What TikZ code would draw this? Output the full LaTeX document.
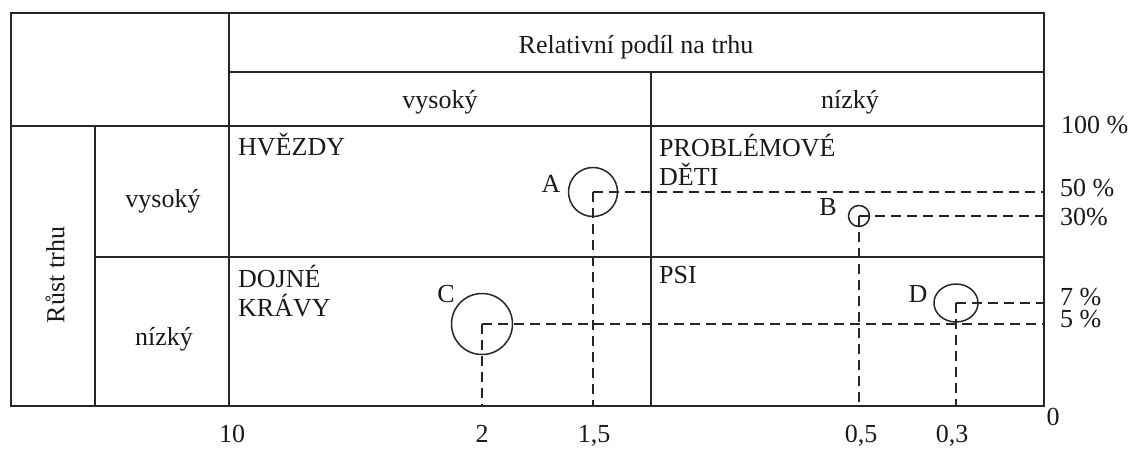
\documentclass[tikz,border=0pt]{standalone}
\usepackage{fontspec}
\setmainfont{Liberation Serif}
\usetikzlibrary{shapes.geometric}
\begin{document}
\begin{tikzpicture}[x=1pt,y=-1pt,
  grid/.style={line width=1.6pt,black!85},
  guide/.style={line width=1.3pt,black!85,dash pattern=on 10pt off 6pt},
  blob/.style={draw,line width=1.5pt,black!85,inner sep=0pt},
  txt/.style={inner sep=0pt,font=\fontsize{26}{29}\selectfont,text=black!90},
  lbl/.style={txt,anchor=base west,align=left}]
\useasboundingbox (0,0) rectangle (1133,448);

% frame corners and cell edges
\coordinate (TL) at (11,13);
\coordinate (BR) at (1044,406);
\coordinate (colA) at (95,0);
\coordinate (colB) at (229,0);
\coordinate (colC) at (651,0);
\coordinate (rowA) at (0,72);
\coordinate (rowB) at (0,126);
\coordinate (rowC) at (0,257);

% table
\draw[grid] (TL) rectangle (BR);
\draw[grid] (colB |- TL) -- (colB |- BR);
\draw[grid] (colA |- rowB) -- (colA |- BR);
\draw[grid] (colB |- rowA) -- (BR |- rowA);
\draw[grid] (TL |- rowB) -- (BR |- rowB);
\draw[grid] (colC |- rowA) -- (colC |- BR);
\draw[grid] (colA |- rowC) -- (BR |- rowC);

% headings
\node[txt,anchor=base] (hdr) at (636,53) {Relativní podíl na trhu};
\node[txt,anchor=base] (hhi) at (440,108) {vysoký};
\node[txt,anchor=base] (hlo) at (850,108) {nízký};
\node[txt,rotate=90] (grow) at (55,275) {Růst trhu};
\node[txt,anchor=base] (ghi) at (163,207) {vysoký};
\node[txt,anchor=base] (glo) at (164,345) {nízký};

% quadrant names (base = baseline of the last line)
\node[lbl] (stars) at (238,155) {HVĚZDY};
\node[lbl] (qmarks) at (659,185) {PROBLÉMOVÉ\\DĚTI};
\node[lbl] (cows) at (238,316) {DOJNÉ\\KRÁVY};
\node[lbl] (dogs) at (659,283) {PSI};

% products
\node[blob,circle,minimum size=49pt] (A) at (593,192) {};
\node[blob,circle,minimum size=21pt] (B) at (859,216) {};
\node[blob,circle,minimum size=61pt] (C) at (482,324) {};
\node[blob,ellipse,minimum width=44pt,minimum height=38pt] (D) at (956,303) {};

\node[txt,anchor=base] (la) at (551,192) {A};
\node[txt,anchor=base] (lb) at (828,215) {B};
\node[txt,anchor=base] (lc) at (446,302) {C};
\node[txt,anchor=base] (ld) at (918,302) {D};

% projections onto the axes
\foreach \p in {A,B,C,D}{
  \draw[guide] (\p.center) -- (\p.center -| BR);
  \draw[guide] (\p.center) -- (\p.center |- BR);
}

% growth scale
\node[lbl] (g100) at (1061,133) {100 \%};
\node[lbl] (g50) at (1060,196) {50 \%};
\node[lbl] (g30) at (1060,225) {30\%};
\node[lbl] (g7) at (1060,305) {7 \%};
\node[lbl] (g5) at (1060,327) {5 \%};
\node[txt,anchor=base] (g0) at (1053,425) {0};

% share scale
\node[txt,anchor=base] (s10) at (232,442) {10};
\node[txt,anchor=base] (s2) at (482,442) {2};
\node[txt,anchor=base] (s15) at (594,442) {1,5};
\node[txt,anchor=base] (s05) at (861,442) {0,5};
\node[txt,anchor=base] (s03) at (952,442) {0,3};
\end{tikzpicture}
\end{document}
